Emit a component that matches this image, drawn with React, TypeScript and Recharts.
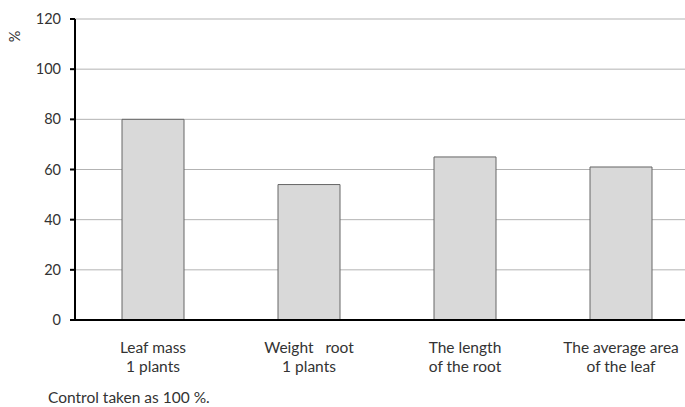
import { Bar, BarChart, CartesianGrid, XAxis, YAxis } from "recharts";

const categories = [
  ["Leaf mass", "1 plants"],
  ["Weight   root", "1 plants"],
  ["The length", "of the root"],
  ["The average area", "of the leaf"],
];
const percentOfControl = [80, 54, 65, 61];
const yTicks = [0, 20, 40, 60, 80, 100, 120];

const data = categories.map((lines, i) => ({
  name: lines.join(" "),
  lines,
  value: percentOfControl[i],
}));

const FONT = "Lato, 'Open Sans', sans-serif";
const TEXT = "#333";

function CategoryTick({ x, y, payload }: any) {
  const item = data[payload.index];
  return (
    <text x={x} y={y} textAnchor="middle" fontSize={15.5} fill={TEXT} fontFamily={FONT}>
      {item.lines.map((line: string, i: number) => (
        <tspan key={i} x={x} dy={i === 0 ? 25 : 19} style={{ whiteSpace: "pre" }}>
          {line}
        </tspan>
      ))}
    </text>
  );
}

export default function App() {
  return (
    <div
      style={{
        position: "absolute",
        left: 0,
        top: 0,
        width: 685,
        height: 407,
        overflow: "hidden",
        background: "#fff",
        fontFamily: FONT,
      }}
    >
      <BarChart
        width={700}
        height={407}
        data={data}
        margin={{ top: 19, right: 1, left: 0, bottom: 0 }}
        barSize={62}
      >
        <CartesianGrid horizontal vertical={false} stroke="#b3b3b3" strokeWidth={1} />
        <XAxis
          dataKey="name"
          axisLine={{ stroke: "#000", strokeWidth: 2 }}
          tickLine={false}
          tick={<CategoryTick />}
          interval={0}
          height={87}
        />
        <YAxis
          domain={[0, 120]}
          ticks={yTicks}
          width={75}
          axisLine={{ stroke: "#000", strokeWidth: 2 }}
          tickLine={{ stroke: "#000", strokeWidth: 2 }}
          tickSize={5}
          tickMargin={9}
          tick={{ fontSize: 14.5, fill: TEXT, fontFamily: FONT }}
        />
        <Bar
          dataKey="value"
          fill="#d9d9d9"
          stroke="#666"
          strokeWidth={1}
          isAnimationActive={false}
        />
      </BarChart>
      <div
        style={{
          position: "absolute",
          left: 9,
          top: 28,
          fontSize: 14.5,
          color: TEXT,
          transform: "rotate(-90deg)",
        }}
      >
        %
      </div>
      <div
        style={{
          position: "absolute",
          left: 48,
          top: 388,
          fontSize: 15.5,
          color: TEXT,
          whiteSpace: "pre",
        }}
      >
        Control taken as 100 %.
      </div>
    </div>
  );
}
